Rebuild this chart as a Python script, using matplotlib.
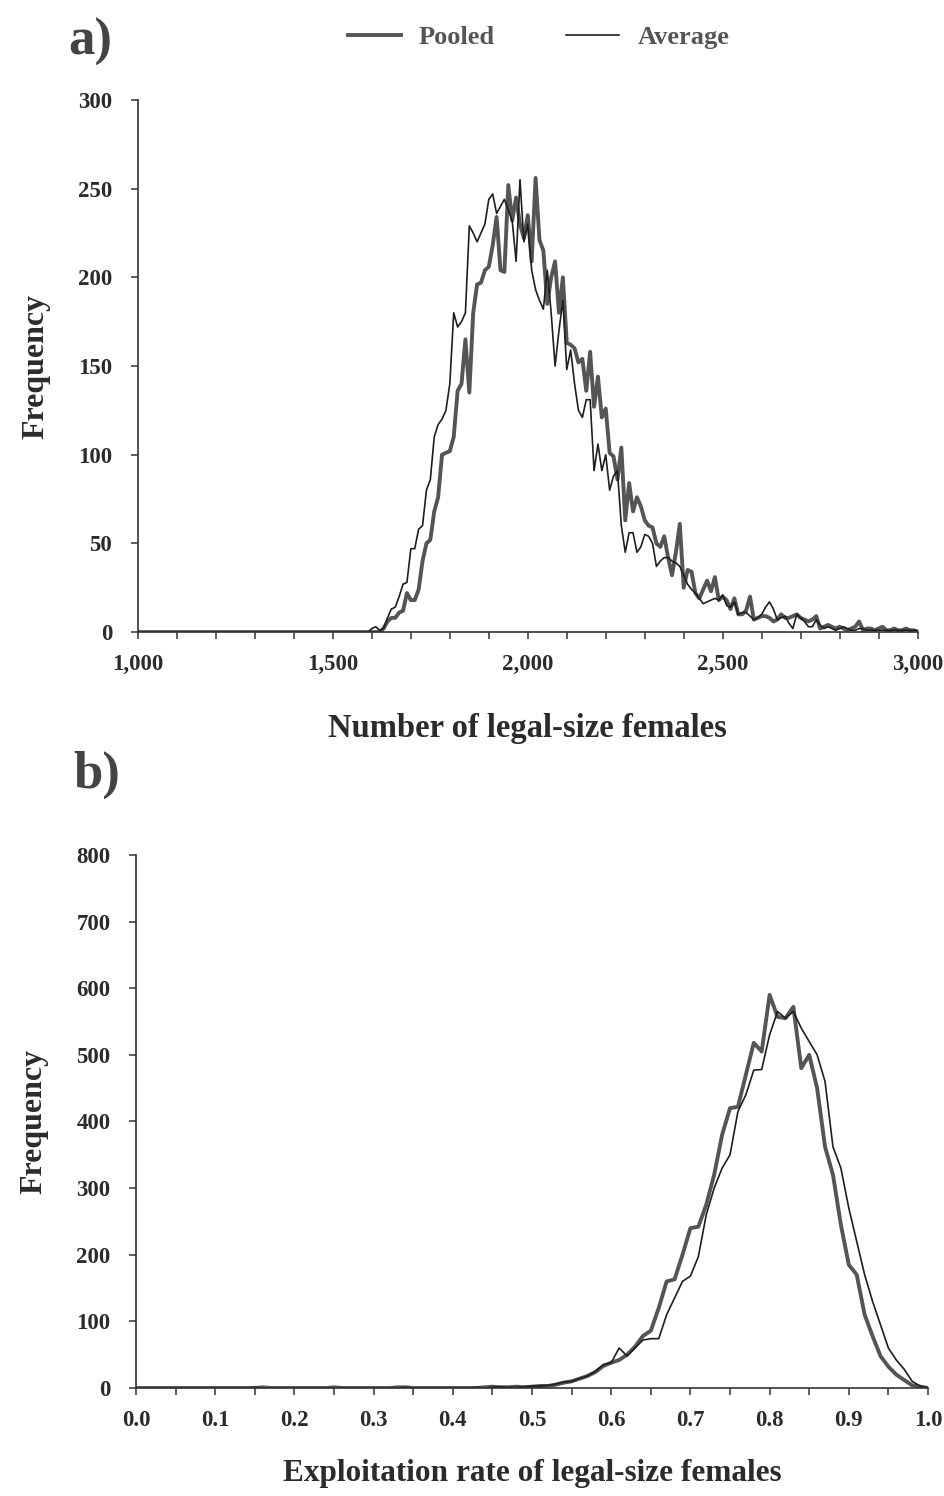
import numpy as np
import matplotlib
matplotlib.use("Agg")
import matplotlib.pyplot as plt
from matplotlib.ticker import MultipleLocator, FuncFormatter

# a) number of legal-size females, bins of 10 from 1,000 to 3,000
num_bins = np.arange(1000, 3001, 10)
pooled_num = [0] * 60 + [
    0, 0, 0, 2, 6, 8, 8, 11, 12, 22,
    18, 18, 24, 40, 50, 52, 68, 76, 100, 101,
    102, 110, 136, 140, 165, 135, 180, 196, 197, 204,
    206, 218, 234, 204, 203, 252, 232, 245, 230, 222,
    235, 209, 256, 221, 215, 185, 200, 209, 180, 200,
    163, 162, 160, 152, 154, 136, 158, 127, 144, 121,
    126, 101, 99, 86, 104, 63, 84, 68, 76, 71,
    63, 60, 59, 50, 48, 54, 42, 32, 45, 61,
    25, 35, 34, 22, 19, 24, 29, 23, 31, 18,
    20, 18, 13, 19, 10, 10, 12, 20, 7, 8,
    9, 9, 8, 6, 7, 10, 8, 8, 9, 10,
    8, 7, 6, 7, 9, 2, 3, 4, 3, 2,
    3, 2, 1, 2, 3, 6, 1, 2, 2, 1,
    2, 3, 1, 1, 2, 1, 1, 2, 1, 1,
    0]
average_num = [0] * 60 + [
    2, 3, 1, 2, 8, 13, 14, 20, 27, 28,
    47, 47, 58, 60, 80, 86, 110, 117, 120, 125,
    140, 180, 172, 175, 180, 229, 225, 220, 225, 230,
    244, 247, 236, 240, 244, 238, 232, 209, 255, 220,
    230, 204, 193, 187, 182, 204, 180, 150, 170, 187,
    148, 159, 140, 125, 121, 131, 131, 91, 106, 91,
    100, 80, 88, 91, 60, 45, 56, 56, 45, 48,
    55, 54, 50, 37, 40, 42, 42, 40, 39, 37,
    32, 27, 24, 22, 19, 16, 17, 18, 19, 18,
    21, 15, 14, 17, 10, 11, 11, 9, 7, 8,
    10, 14, 17, 13, 7, 8, 9, 5, 2, 10,
    8, 6, 3, 3, 7, 4, 2, 3, 2, 1,
    2, 3, 2, 1, 1, 2, 2, 1, 1, 1,
    1, 1, 1, 1, 1, 1, 1, 1, 1, 1,
    1]

# b) exploitation rate, bins of 0.01 from 0 to 1
rate_bins = np.round(np.arange(0, 1.001, 0.01), 2)
pooled_rate = [
    0, 0, 0, 0, 0, 0, 0, 0, 0, 0,
    0, 0, 0, 0, 0, 0, 1, 0, 0, 0,
    0, 0, 0, 0, 0, 1, 0, 0, 0, 0,
    0, 0, 0, 1, 1, 0, 0, 0, 0, 0,
    0, 0, 0, 0, 1, 2, 1, 1, 2, 1,
    2, 3, 3, 5, 8, 10, 14, 18, 24, 33,
    38, 42, 50, 62, 78, 86, 120, 160, 163, 200,
    240, 242, 275, 320, 380, 420, 422, 470, 518, 505,
    590, 557, 555, 572, 480, 500, 450, 362, 320, 245,
    185, 170, 110, 78, 48, 32, 20, 12, 4, 2,
    0]
average_rate = [
    0, 0, 0, 0, 0, 0, 0, 0, 0, 0,
    0, 0, 0, 0, 0, 1, 0, 0, 0, 0,
    0, 0, 0, 0, 0, 0, 0, 0, 0, 0,
    0, 0, 0, 0, 1, 0, 0, 0, 0, 0,
    0, 0, 0, 1, 0, 1, 2, 1, 1, 2,
    3, 3, 4, 6, 9, 10, 14, 18, 25, 35,
    38, 60, 48, 60, 72, 74, 74, 110, 135, 160,
    168, 197, 260, 300, 330, 350, 415, 440, 477, 478,
    530, 565, 555, 565, 540, 520, 500, 460, 362, 330,
    270, 220, 170, 130, 95, 60, 42, 28, 10, 3,
    0]

plt.rcParams["font.family"] = ["Liberation Serif", "DejaVu Serif"]
plt.rcParams["font.weight"] = "bold"
text_col = "#2b2b2b"
pooled_col = "#555555"
average_col = "#1e1e1e"

fig = plt.figure(figsize=(9.45, 14.96), dpi=100)
ax1 = fig.add_axes([0.146, 0.5775, 0.825, 0.3557])
ax2 = fig.add_axes([0.144, 0.0722, 0.838, 0.3563])


def style_axis(ax):
    for s in ("top", "right"):
        ax.spines[s].set_visible(False)
    for s in ("left", "bottom"):
        ax.spines[s].set_color("#333333")
        ax.spines[s].set_linewidth(1.2)
    ax.tick_params(axis="both", which="both", direction="out", length=5,
                   width=1.1, color="#333333", labelcolor=text_col,
                   labelsize=16.5)
    ax.tick_params(axis="y", pad=13.5)
    ax.tick_params(axis="x", pad=11)
    for lab in ax.get_xticklabels() + ax.get_yticklabels():
        lab.set_fontweight("bold")


ax1.plot(num_bins, pooled_num, color=pooled_col, lw=2.8, label="Pooled",
         solid_joinstyle="round")
ax1.plot(num_bins, average_num, color=average_col, lw=1.2, label="Average")
ax1.set_xlim(1000, 3000)
ax1.set_ylim(0, 300)
ax1.xaxis.set_major_locator(MultipleLocator(500))
ax1.xaxis.set_minor_locator(MultipleLocator(100))
ax1.yaxis.set_major_locator(MultipleLocator(50))
ax1.xaxis.set_major_formatter(FuncFormatter(lambda v, p: f"{int(v):,}"))
style_axis(ax1)
ax1.set_xlabel("Number of legal-size females", fontsize=23.5,
               fontweight="bold", color=text_col, labelpad=27)
ax1.set_ylabel("Frequency", fontsize=23, fontweight="bold", color=text_col,
               labelpad=20)

ax2.plot(rate_bins, pooled_rate, color=pooled_col, lw=2.8,
         solid_joinstyle="round")
ax2.plot(rate_bins, average_rate, color=average_col, lw=1.2)
ax2.set_xlim(0, 1.0)
ax2.set_ylim(0, 800)
ax2.xaxis.set_major_locator(MultipleLocator(0.1))
ax2.xaxis.set_minor_locator(MultipleLocator(0.05))
ax2.yaxis.set_major_locator(MultipleLocator(100))
ax2.xaxis.set_major_formatter(FuncFormatter(lambda v, p: f"{v:.1f}"))
style_axis(ax2)
ax2.set_xlabel("Exploitation rate of legal-size females", fontsize=22.5,
               fontweight="bold", color=text_col, labelpad=20)
ax2.set_ylabel("Frequency", fontsize=23, fontweight="bold", color=text_col,
               labelpad=20)

fig.text(0.072, 0.972, "a)", fontsize=38, fontweight="bold", color="#444444",
         va="center")
fig.text(0.078, 0.482, "b)", fontsize=38, fontweight="bold", color="#444444",
         va="center")

leg = fig.legend(loc="center", bbox_to_anchor=(0.57, 0.975), ncol=2,
                 frameon=False, fontsize=19, handlelength=2.0,
                 columnspacing=2.7, handletextpad=0.7)
for t in leg.get_texts():
    t.set_color("#555555")
    t.set_fontweight("bold")

fig.savefig("out.png", dpi=100, facecolor="white")
